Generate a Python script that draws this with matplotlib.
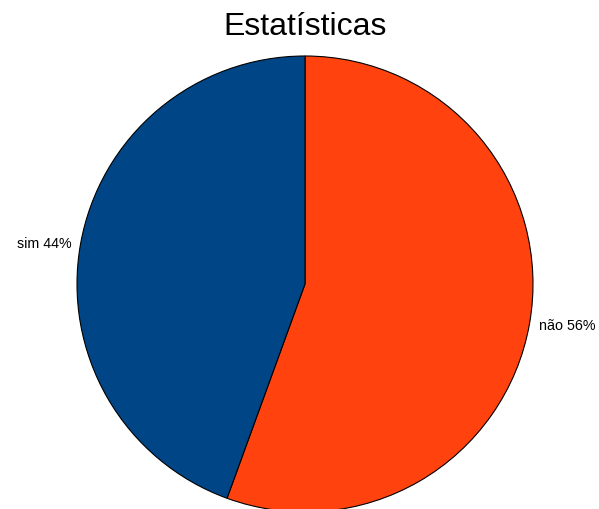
import matplotlib
matplotlib.use("Agg")
import matplotlib.pyplot as plt

categories = ["não", "sim"]
counts = [5, 4]
colors = ["#ff420e", "#004586"]
title = "Estatísticas"

plt.rcParams['font.family'] = ['Liberation Sans', 'DejaVu Sans']

fig = plt.figure(figsize=(5.99, 5.10), dpi=100)
W, H = 599, 510
ax = fig.add_axes([77 / W, (H - 513) / H, 456 / W, 456 / H])

total = sum(counts)
labels = [f"{c} {round(100 * v / total)}%" for c, v in zip(categories, counts)]
wedges, texts = ax.pie(counts, labels=labels, colors=colors, startangle=90,
                       counterclock=False, labeldistance=1.04,
                       wedgeprops=dict(edgecolor="black", linewidth=0.8),
                       textprops=dict(fontsize=10.3))
ax.set_aspect('auto')
ax.set_xlim(-1, 1)
ax.set_ylim(-1, 1)
ax.axis('off')

fig.text(305 / W, 1 - 27 / H, title, ha='center', va='center', fontsize=23)

fig.savefig("out.png", dpi=100)
